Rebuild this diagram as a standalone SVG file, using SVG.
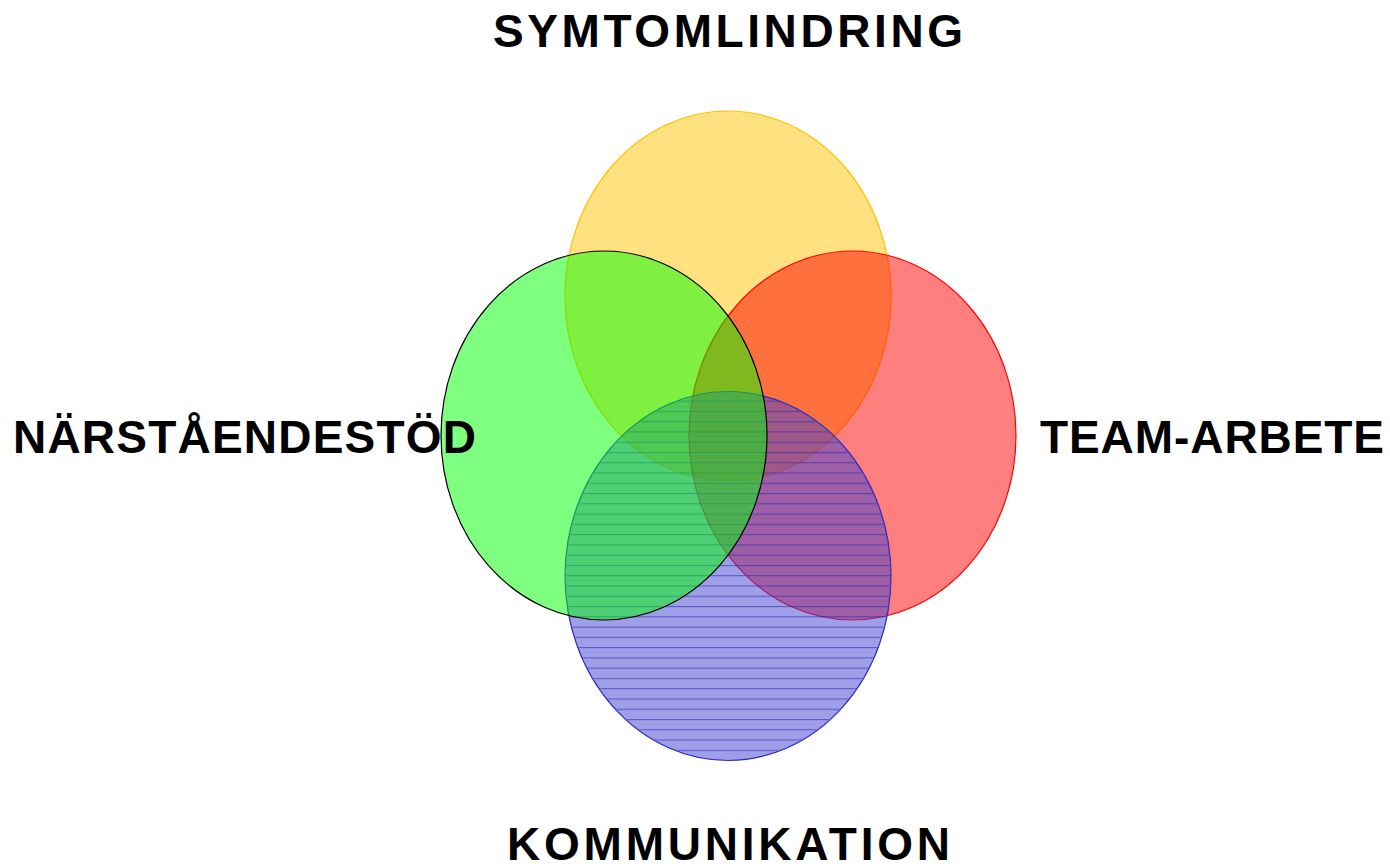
<svg xmlns="http://www.w3.org/2000/svg" width="1390" height="866" viewBox="0 0 1390 866">
  <style>
    .lbl { font-family: "Liberation Sans", Arial, sans-serif; font-weight: bold; font-size: 46px; fill: #000; }
    .c { fill-opacity: 0.5; stroke-width: 1.2; }
  </style>
  <defs>
    <pattern id="hatch" patternUnits="userSpaceOnUse" x="0" y="606" width="20" height="10.27">
      <line x1="0" y1="0.5" x2="20" y2="0.5" stroke="#2a2ab8" stroke-width="1.2" stroke-opacity="0.6"/>
    </pattern>
  </defs>
  <rect width="1390" height="866" fill="#fff"/>
  <g id="symtomlindring">
    <ellipse class="c" cx="728" cy="296" rx="163" ry="185" fill="#FFC400" stroke="#FFC000"/>
  </g>
  <g id="team-arbete">
    <ellipse class="c" cx="852.5" cy="435.5" rx="163.5" ry="184.5" fill="#FF0000" stroke="#FF0000"/>
  </g>
  <g id="kommunikation">
    <ellipse class="c" cx="728" cy="576" rx="163" ry="184.5" fill="#3f3fcf" stroke="#2a2abf"/>
    <ellipse cx="728" cy="576" rx="162" ry="183.5" fill="url(#hatch)"/>
  </g>
  <g id="narstaendestod">
    <ellipse class="c" cx="604" cy="435.5" rx="163" ry="184.5" fill="#00FF00" stroke="#000"/>
  </g>
  <g id="labels">
    <text class="lbl" x="493" y="47" textLength="470" lengthAdjust="spacing">SYMTOMLINDRING</text>
    <text class="lbl" x="13" y="453" textLength="463" lengthAdjust="spacing">NÄRSTÅENDESTÖD</text>
    <text class="lbl" x="1040" y="453" textLength="344" lengthAdjust="spacing">TEAM-ARBETE</text>
    <text class="lbl" x="507" y="860" textLength="443" lengthAdjust="spacing">KOMMUNIKATION</text>
  </g>
</svg>
